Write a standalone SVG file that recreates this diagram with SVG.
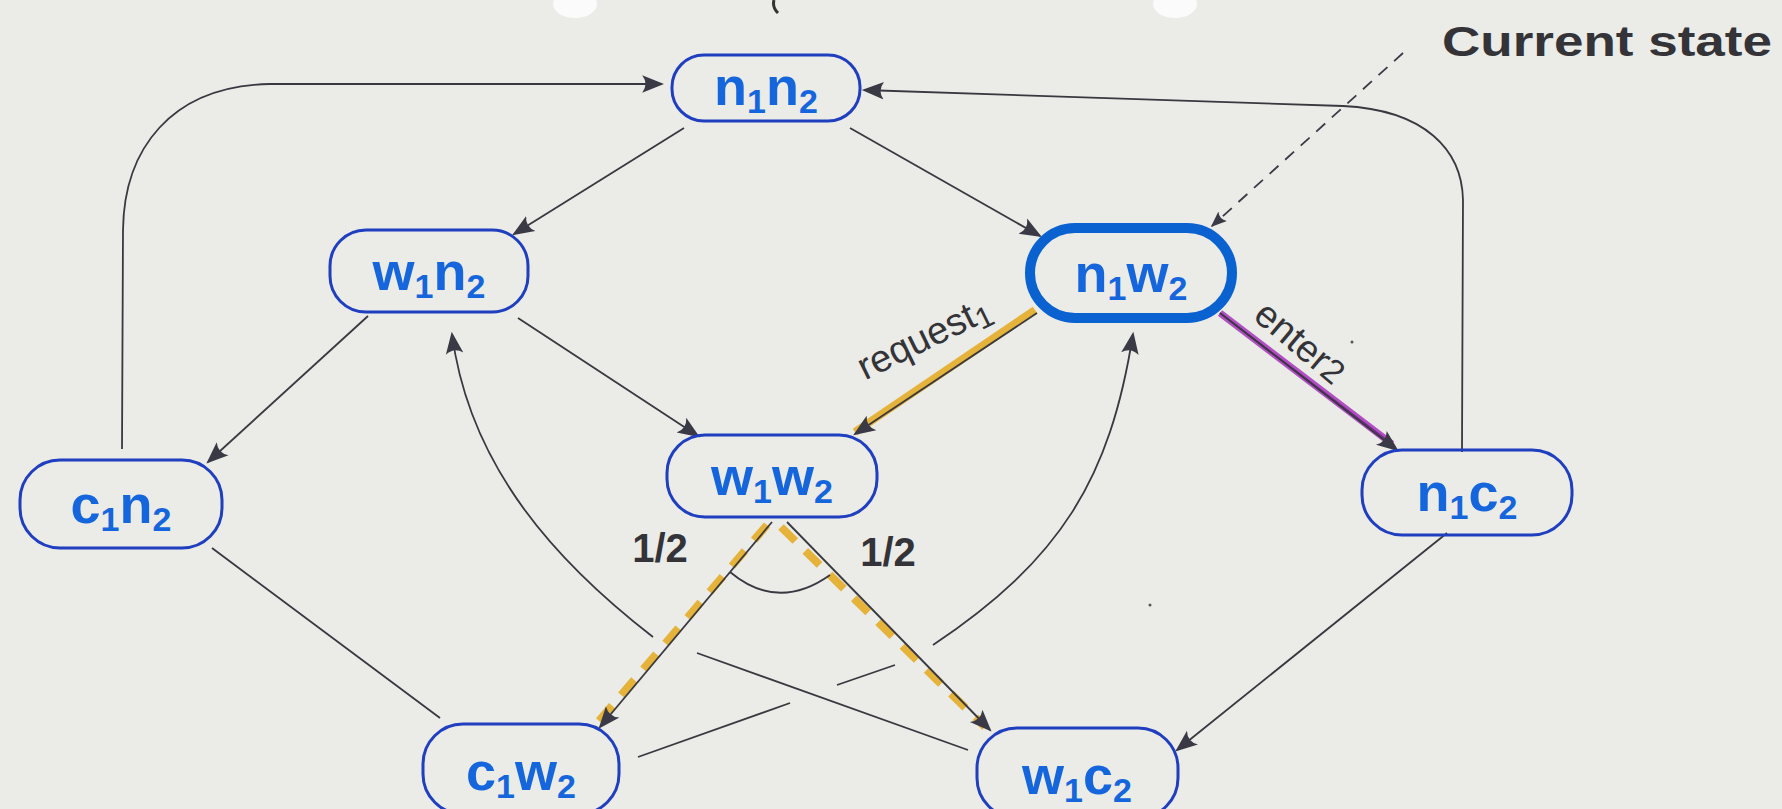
<svg xmlns="http://www.w3.org/2000/svg" width="1782" height="809" viewBox="0 0 1782 809">
<defs>
<style>
.bg{fill:#ebebe7}
.node rect{fill:none;stroke:#1f3fc0;stroke-width:3}
.node.cur rect{stroke:#0a62d0;stroke-width:10}
.lbl{font-family:"Liberation Sans",Arial,sans-serif;font-weight:bold;font-size:54px;fill:#1566dc;text-anchor:middle}
.sub{font-size:34px}
.edge{fill:none;stroke:#383840;stroke-width:1.8}
.arr{marker-end:url(#ah)}
.hl{fill:none;stroke:#e6b33a;stroke-width:8}
.hld{fill:none;stroke:#e6b33a;stroke-width:8;stroke-dasharray:20 14}
.pur{fill:none;stroke:#b24ec4;stroke-width:7}
.note{font-family:"Liberation Sans",Arial,sans-serif;fill:#333338}
</style>
<marker id="ah" viewBox="0 0 20 20" refX="18" refY="10" markerWidth="22" markerHeight="22" markerUnits="userSpaceOnUse" orient="auto">
<path d="M0,2 Q6,10 0,18 L20,10 Z" fill="#3a3a46"/>
</marker>
<marker id="ahs" viewBox="0 0 20 20" refX="18" refY="10" markerWidth="16" markerHeight="16" markerUnits="userSpaceOnUse" orient="auto">
<path d="M0,2 Q6,10 0,18 L20,10 Z" fill="#3a3a46"/>
</marker>
</defs>
<rect class="bg" x="0" y="0" width="1782" height="809"/>
<ellipse cx="575" cy="4" rx="22" ry="14" fill="#fbfbfb"/>
<ellipse cx="1175" cy="4" rx="22" ry="14" fill="#fbfbfb"/>
<path d="M774,0 Q772,7 778,13" fill="none" stroke="#333" stroke-width="3"/>
<circle cx="1150" cy="605" r="1.5" fill="#555"/>
<circle cx="1352" cy="342" r="1.5" fill="#555"/>

<g id="connectors">
<path class="hl" d="M1035,310 L855,432"/>
<path class="hld" d="M767,525 L598,722"/>
<path class="hld" d="M781,527 L985,727"/>
<path class="pur" d="M1220,313 L1392,444"/>
<path d="M1220,313 L1392,444" fill="none" stroke="#6e2a7e" stroke-width="1.5"/>

<path class="edge arr" d="M122,449 L123,230 C124,150 170,86 270,84 L662,84"/>
<path class="edge arr" d="M1462,452 L1463,200 C1462,150 1425,110 1343,106 L864,90"/>
<path class="edge arr" d="M684,128 L514,234"/>
<path class="edge arr" d="M850,128 L1040,236"/>
<path class="edge arr" d="M368,316 L208,462"/>
<path class="edge arr" d="M518,318 L698,436"/>
<path class="edge arr" d="M1037,313 L855,434"/>
<path class="edge arr" d="M1220,313 L1397,450"/>
<path class="edge arr" d="M1447,533 L1177,750"/>
<path class="edge arr" d="M772,522 L600,727"/>
<path class="edge arr" d="M787,522 L990,730"/>
<path class="edge" d="M212,548 L440,718"/>
<path class="edge" d="M968,750 L697,653"/>
<path class="edge arr" d="M653,637 C560,565 470,470 452,334"/>
<path class="edge" d="M638,757 L790,703"/>
<path class="edge" d="M837,685 L895,665"/>
<path class="edge arr" d="M933,645 C1060,560 1110,480 1133,334"/>
<path class="edge" d="M730,572 Q778,612 830,575"/>
<path d="M1403,53 L1212,226" fill="none" stroke="#3a3a46" stroke-width="1.8" stroke-dasharray="12 9" marker-end="url(#ahs)"/>
</g>

<g id="labels">
<text class="note" font-size="38" text-anchor="middle" transform="rotate(-26 925 340)" x="925" y="350">request<tspan font-size="30" dy="6">1</tspan></text>
<text class="note" font-size="38" text-anchor="middle" transform="rotate(40 1300 343)" x="1300" y="355">enter<tspan font-size="34">2</tspan></text>
<text class="note" font-size="40" font-weight="bold" text-anchor="middle" x="660" y="562">1/2</text>
<text class="note" font-size="40" font-weight="bold" text-anchor="middle" x="888" y="566">1/2</text>
<text class="note" font-size="42" font-weight="bold" x="1442" y="56" textLength="330" lengthAdjust="spacingAndGlyphs" fill="#2c2c3a">Current state</text>
</g>

<g id="n1n2" class="node"><rect x="672" y="55" width="188" height="66" rx="32"/><text class="lbl" x="766" y="105">n<tspan class="sub" dy="8">1</tspan><tspan dy="-8">n</tspan><tspan class="sub" dy="8">2</tspan></text></g>
<g id="w1n2" class="node"><rect x="330" y="230" width="198" height="82" rx="36"/><text class="lbl" x="429" y="290">w<tspan class="sub" dy="8">1</tspan><tspan dy="-8">n</tspan><tspan class="sub" dy="8">2</tspan></text></g>
<g id="n1w2" class="node cur"><rect x="1030" y="228" width="202" height="90" rx="45"/><text class="lbl" x="1131" y="292">n<tspan class="sub" dy="8">1</tspan><tspan dy="-8">w</tspan><tspan class="sub" dy="8">2</tspan></text></g>
<g id="c1n2" class="node"><rect x="20" y="460" width="202" height="88" rx="40"/><text class="lbl" x="121" y="523">c<tspan class="sub" dy="8">1</tspan><tspan dy="-8">n</tspan><tspan class="sub" dy="8">2</tspan></text></g>
<g id="w1w2" class="node"><rect x="667" y="435" width="210" height="82" rx="38"/><text class="lbl" x="772" y="495">w<tspan class="sub" dy="8">1</tspan><tspan dy="-8">w</tspan><tspan class="sub" dy="8">2</tspan></text></g>
<g id="n1c2" class="node"><rect x="1362" y="450" width="210" height="85" rx="40"/><text class="lbl" x="1467" y="511">n<tspan class="sub" dy="8">1</tspan><tspan dy="-8">c</tspan><tspan class="sub" dy="8">2</tspan></text></g>
<g id="c1w2" class="node"><rect x="423" y="724" width="196" height="90" rx="40"/><text class="lbl" x="521" y="790">c<tspan class="sub" dy="8">1</tspan><tspan dy="-8">w</tspan><tspan class="sub" dy="8">2</tspan></text></g>
<g id="w1c2" class="node"><rect x="977" y="728" width="201" height="90" rx="40"/><text class="lbl" x="1077" y="794">w<tspan class="sub" dy="8">1</tspan><tspan dy="-8">c</tspan><tspan class="sub" dy="8">2</tspan></text></g>
</svg>
